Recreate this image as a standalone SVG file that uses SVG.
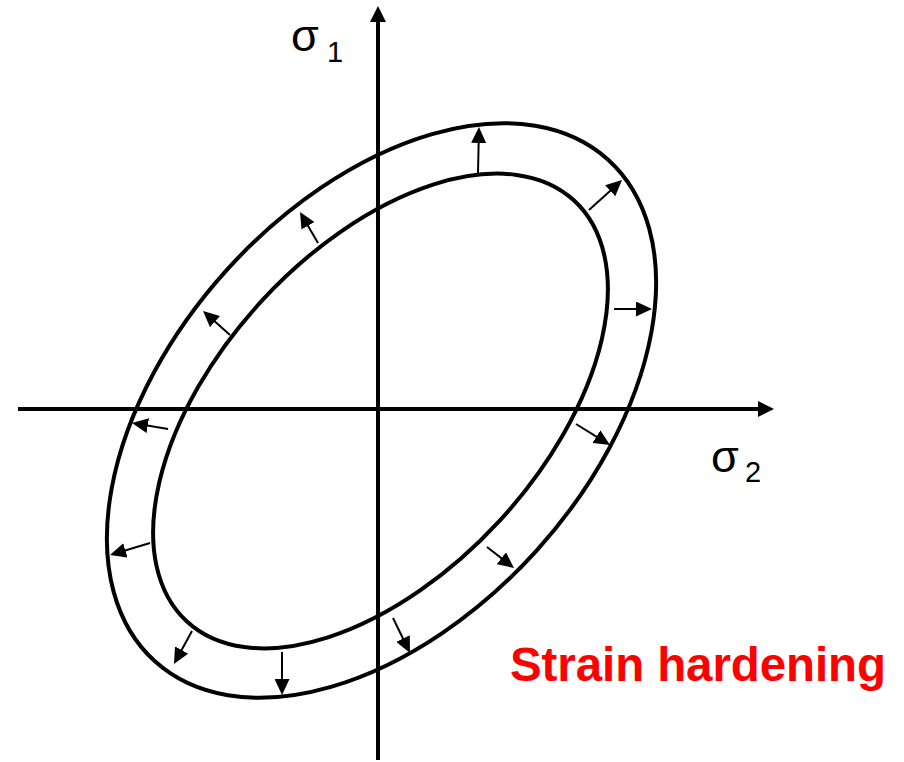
<svg xmlns="http://www.w3.org/2000/svg" width="904" height="762" viewBox="0 0 904 762">
<style>
.axis{stroke:#000;stroke-width:4;fill:none}
.yield{stroke:#000;stroke-width:4;fill:none}
.arr{stroke:#000;stroke-width:2;fill:none;marker-end:url(#ah)}
.lbl{font-family:"Liberation Sans",Arial,sans-serif;fill:#000}
.title{font-family:"Liberation Sans",Arial,sans-serif;font-weight:bold;fill:#ff0000}
</style>
<defs>
<marker id="ah" viewBox="0 0 16 15" markerWidth="16" markerHeight="15" refX="8" refY="7.5" orient="auto" markerUnits="userSpaceOnUse">
<path d="M0,0 L16,7.5 L0,15 z" fill="#000"/>
</marker>
<marker id="axh" viewBox="0 0 16 16" markerWidth="16" markerHeight="16" refX="2" refY="8" orient="auto" markerUnits="userSpaceOnUse">
<path d="M0,0 L16,8 L0,16 z" fill="#000"/>
</marker>
</defs>
<rect width="904" height="762" fill="#fff"/>
<g id="axes">
<line class="axis" x1="18" y1="409" x2="760" y2="409" marker-end="url(#axh)"/>
<line class="axis" x1="378" y1="760" x2="378" y2="20" marker-end="url(#axh)"/>
</g>
<g id="outer-surface">
<ellipse class="yield" cx="381.5" cy="410.5" rx="338" ry="209" transform="rotate(-47.9 381.5 410.5)"/>
</g>
<g id="inner-surface">
<ellipse class="yield" cx="380.5" cy="411" rx="286" ry="162" transform="rotate(-47.4 380.5 411)"/>
</g>
<g id="connectors">
<line class="arr" x1="318" y1="243" x2="304" y2="218.9"/>
<line class="arr" x1="230" y1="335" x2="209" y2="316.3"/>
<line class="arr" x1="478" y1="174" x2="478.8" y2="135"/>
<line class="arr" x1="589" y1="210" x2="616.1" y2="185.4"/>
<line class="arr" x1="614" y1="309" x2="644" y2="309"/>
<line class="arr" x1="168" y1="429" x2="139.9" y2="424.3"/>
<line class="arr" x1="150" y1="543" x2="117.7" y2="552.7"/>
<line class="arr" x1="192" y1="631" x2="177.8" y2="657"/>
<line class="arr" x1="282" y1="652" x2="282" y2="687"/>
<line class="arr" x1="576" y1="424" x2="603.2" y2="440.8"/>
<line class="arr" x1="487" y1="547" x2="507.7" y2="563.1"/>
<line class="arr" x1="393" y1="618" x2="406.5" y2="645.8"/>
</g>
<g id="label-s1">
<text class="lbl" x="291" y="51" font-size="45">σ</text>
<text class="lbl" x="327" y="62" font-size="29">1</text>
</g>
<g id="label-s2">
<text class="lbl" x="711" y="472" font-size="45">σ</text>
<text class="lbl" x="745" y="482" font-size="29">2</text>
</g>
<g id="label-title">
<text class="title" x="510" y="681" font-size="47.5" textLength="376" lengthAdjust="spacing">Strain hardening</text>
</g>
</svg>
